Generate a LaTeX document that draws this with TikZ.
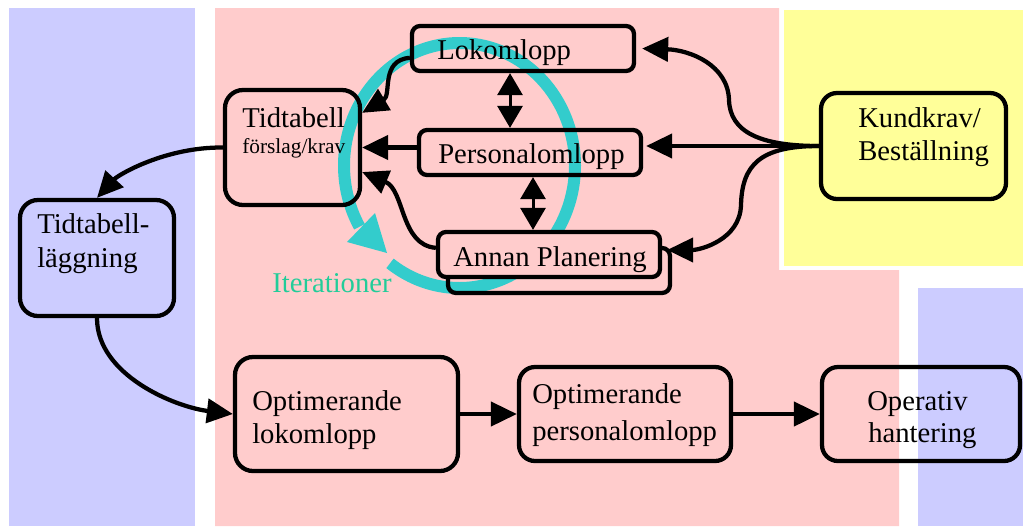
\documentclass[tikz,border=0pt]{standalone}
\usepackage{fontspec}
\setmainfont{Liberation Serif}
\usetikzlibrary{arrows.meta}
\definecolor{bgblue}{HTML}{CCCCFF}
\definecolor{bgpink}{HTML}{FFCCCC}
\definecolor{bgyellow}{HTML}{FFFF99}
\definecolor{loopcyan}{HTML}{33CCCC}
\definecolor{looptext}{HTML}{22CC99}

\begin{document}
\begin{tikzpicture}[x=0.75pt,y=-0.75pt,
  box/.style={draw, line width=3.2pt, rounded corners=#1, inner sep=0pt},
  box/.default=6pt,
  lbl/.style={anchor=base west, inner sep=0pt, font=\fontsize{21.5}{25}\selectfont},
  smalllbl/.style={anchor=base west, inner sep=0pt, font=\fontsize{16}{19}\selectfont},
  flow/.style={line width=3.2pt, -{Triangle[length=19.5pt,width=18pt]}},
  twoway/.style={line width=2.25pt, {Triangle[length=16.5pt,width=18.75pt]}-{Triangle[length=16.5pt,width=18.75pt]}},
  ring/.style={draw=loopcyan, line width=9pt, line join=round},
]
% canvas
\useasboundingbox (0,0) rectangle (1023,526);
\fill[white] (0,0) rectangle (1023,526);

% coloured zones
\fill[bgblue] (9,8) rectangle (195,526);
\fill[bgpink] (215,8) -- (779,8) -- (779,270) -- (899,270) -- (899,526) -- (215,526) -- cycle;
\fill[bgyellow] (784,10) rectangle (1023,266);
\fill[bgblue] (918,288) rectangle (1023,526);

% iteration loop
\draw[ring] plot[domain=487:150, samples=200] ({459.5+115.5*cos(\x)},{165.5+122.5*sin(\x)});
\fill[loopcyan] (347,242) -- (375,213) -- (387,253) -- cycle;
\node[lbl, text=looptext] (iter) at (272,292) {Iterationer};

% boxes
\node[box=13.5pt, minimum width=101.25pt, minimum height=86.25pt] (tid) at (292.5,147.5) {};
\node[box, minimum width=166.5pt, minimum height=33.75pt] (lok) at (523,48.5) {};
\node[box, minimum width=166.5pt, minimum height=33.75pt] (pers) at (530,152.5) {};
\node[box, minimum width=166.5pt, minimum height=33.75pt] (annanbak) at (559,270.5) {};
\node[box, fill=bgpink, minimum width=166.5pt, minimum height=33.75pt] (annan) at (549,254.5) {};
\node[box=12pt, minimum width=138.75pt, minimum height=79.5pt] (kund) at (913.5,146) {};
\node[box=13.5pt, minimum width=115.5pt, minimum height=87pt] (ttl) at (97,258) {};
\node[box=13.5pt, minimum width=167.25pt, minimum height=85.5pt] (optlok) at (346.5,414) {};
\node[box=12pt, minimum width=159pt, minimum height=70.5pt] (optpers) at (625,414) {};
\node[box=12pt, minimum width=148.5pt, minimum height=70.5pt] (oper) at (921,414) {};

% texts
\node[lbl] (tid-a) at (242,127) {Tidtabell};
\node[smalllbl] (tid-b) at (242,153) {förslag/krav};
\node[lbl] (lok-t) at (437,59) {Lokomlopp};
\node[lbl] (pers-t) at (438,163) {Personalomlopp};
\node[lbl] (annan-t) at (453,266) {Annan Planering};
\node[lbl] (kund-a) at (858,127) {Kundkrav/};
\node[lbl] (kund-b) at (858,160) {Beställning};
\node[lbl] (ttl-a) at (37,233) {Tidtabell-};
\node[lbl] (ttl-b) at (37,267) {läggning};
\node[lbl] (optlok-a) at (252,410) {Optimerande};
\node[lbl] (optlok-b) at (252,443) {lokomlopp};
\node[lbl] (optpers-a) at (532,403) {Optimerande};
\node[lbl] (optpers-b) at (532,440) {personalomlopp};
\node[lbl] (oper-a) at (867,410) {Operativ};
\node[lbl] (oper-b) at (868,442) {hantering};

% connectors
\draw[flow] (tid.west) .. controls (165,147) and (118,175) .. (ttl.north);
\draw[flow] (ttl.south) .. controls (97,375) and (175,407) .. (optlok.west);
\draw[flow] ([yshift=-7pt]lok.west) .. controls (380,60) and (392,95) .. ([yshift=26pt]tid.east);
\draw[flow] (pers.west |- tid.east) -- (tid.east);
\draw[flow] ([yshift=5pt]annan.west) .. controls (400,245) and (405,190) .. ([yshift=-18.4pt]tid.east);
\draw[twoway] ([xshift=-9.75pt]lok.south) -- ([xshift=-9.75pt]lok.south |- pers.north);
\draw[twoway] ([xshift=2.25pt]pers.south) -- ([xshift=2.25pt]pers.south |- annan.north);
\draw[flow] (kund.west) .. controls (760,146) and (730,132) .. (729,100)
  .. controls (728,65) and (690,50) .. ([xshift=4.5pt]lok.east);
\draw[flow] (kund.west) -- ([xshift=2.25pt]pers.east |- kund.west);
\draw[flow] (kund.west) .. controls (760,146) and (742,165) .. (741,205)
  .. controls (740,240) and (700,250) .. ([xshift=3.75pt,yshift=3.4pt]annan.east);
\draw[flow] (optlok.east) -- (optpers.west);
\draw[flow] (optpers.east) -- (oper.west);
\end{tikzpicture}
\end{document}
